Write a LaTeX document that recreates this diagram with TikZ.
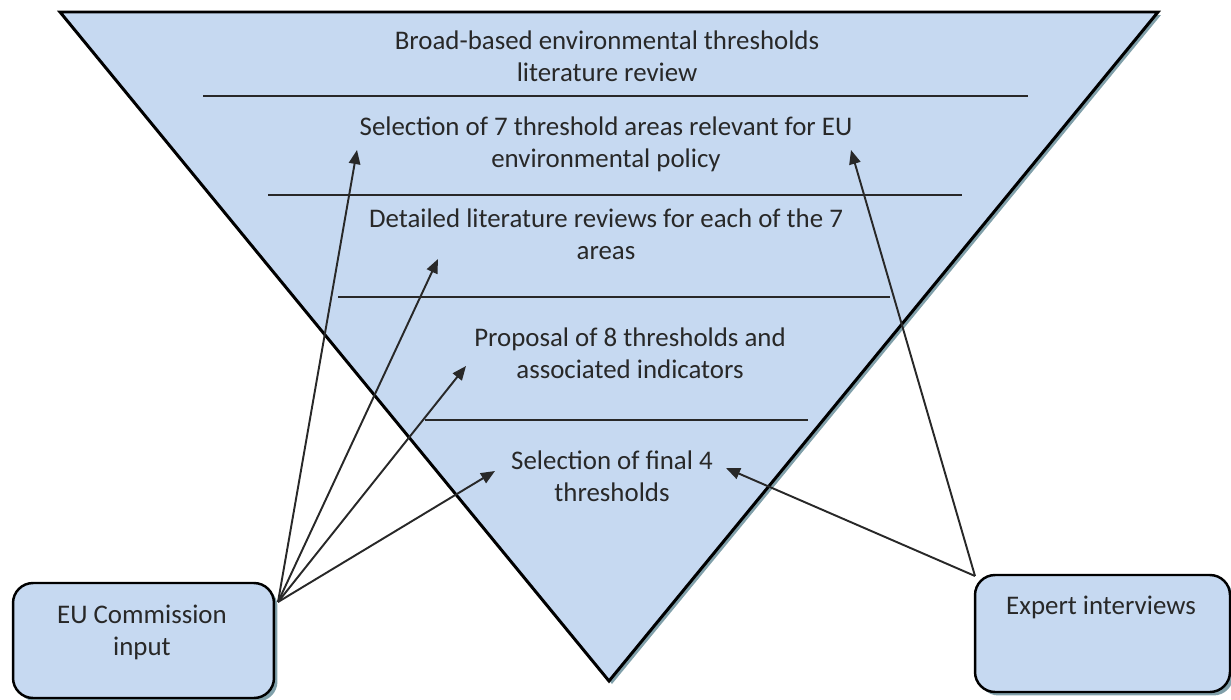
\documentclass[tikz,border=0pt]{standalone}
\usepackage{fontspec}
\setmainfont{Carlito}
\usetikzlibrary{arrows.meta}
\definecolor{fillblue}{RGB}{198,217,241}
\definecolor{shadowc}{RGB}{128,160,170}
\definecolor{txtc}{RGB}{40,40,40}
\definecolor{linec}{RGB}{40,40,40}
\begin{document}
\begin{tikzpicture}[x=0.02cm,y=-0.02cm,
  txt/.style={text=txtc,align=center,font=\fontsize{15.3}{18.2}\selectfont,inner sep=0pt},
  sep/.style={draw=linec,line width=1.1pt},
  arr/.style={draw=linec,line width=1.1pt,-{Triangle[length=8pt,width=6.5pt]}},
  box/.style={draw=black,line width=1.4pt,fill=fillblue,rounded corners=0.4cm,inner sep=0pt},
  shbox/.style={fill=shadowc,rounded corners=0.4cm,inner sep=0pt,draw=none}]
\useasboundingbox (0,0) rectangle (1231,700);
% triangle
\fill[shadowc] (62,15) -- (1161,15) -- (612,684) -- cycle;
\filldraw[fill=fillblue,draw=black,line width=1.7pt,line join=miter] (60,12) -- (1158,12) -- (609,681) -- cycle;
% separators
\draw[sep] (203,96) -- (1028,96);
\draw[sep] (268,195) -- (962,195);
\draw[sep] (338,297) -- (890,297);
\draw[sep] (425,420) -- (808,420);
% texts
\node[txt] (t1) at (607,56) {Broad-based environmental thresholds\\literature review};
\node[txt] (t2) at (606,144) {Selection of 7 threshold areas relevant for EU\\environmental policy};
\node[txt] (t3) at (606,234) {Detailed literature reviews for each of the 7\\areas};
\node[txt] (t4) at (630,353) {Proposal of 8 thresholds and\\associated indicators};
\node[txt] (t5) at (612,476) {Selection of final 4\\thresholds};
% boxes
\node[shbox,minimum width=5.22cm,minimum height=2.3cm] at (147,644) {};
\node[box,minimum width=5.22cm,minimum height=2.3cm] (eu) at (143.5,640.5) {};
\node[txt] (eut) at (142,632) {EU Commission\\input};
\node[shbox,minimum width=5.1cm,minimum height=2.34cm] at (1106,637) {};
\node[box,minimum width=5.1cm,minimum height=2.34cm] (ex) at (1102.5,633.5) {};
\node[txt] (ext) at (1101,607) {Expert interviews};
% arrow coordinates
\coordinate (eus) at (278,602);
\coordinate (exs) at (975,576);
\coordinate (a1) at (357,150);
\coordinate (a2) at (438,259);
\coordinate (a3) at (466,366);
\coordinate (a4) at (495,471);
\coordinate (b1) at (851,150);
\coordinate (b2) at (726,468);
\draw[arr] (eus) -- (a1);
\draw[arr] (eus) -- (a2);
\draw[arr] (eus) -- (a3);
\draw[arr] (eus) -- (a4);
\draw[arr] (exs) -- (b1);
\draw[arr] (exs) -- (b2);
\end{tikzpicture}
\end{document}
